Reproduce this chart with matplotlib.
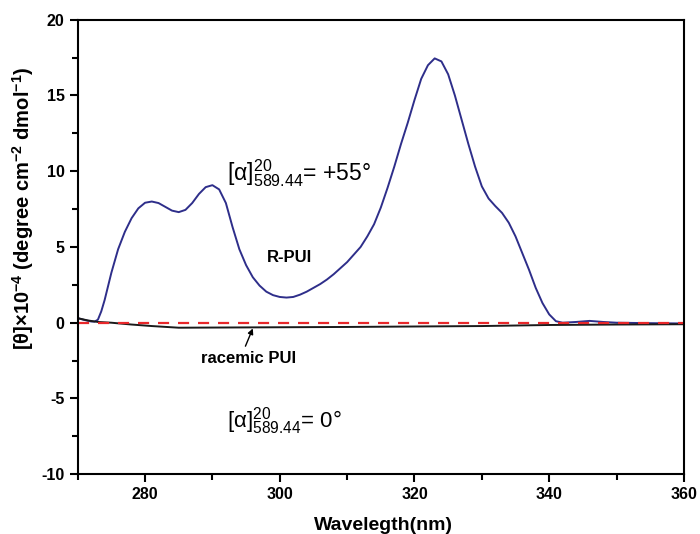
import matplotlib
matplotlib.use("Agg")
import matplotlib.pyplot as plt
from matplotlib.ticker import MultipleLocator

plt.rcParams.update({
    "font.family": ["Liberation Sans", "DejaVu Sans"],
    "mathtext.fontset": "custom",
    "mathtext.rm": "Liberation Sans",
    "mathtext.it": "Liberation Sans",
    "mathtext.bf": "Liberation Sans:bold",
    "axes.unicode_minus": False,
})

# --- data ---
wl_r = [270, 271, 272, 272.5, 273, 273.5, 274, 275, 276, 277, 278, 279, 280, 281, 282, 283,
        284, 285, 286, 287, 288, 289, 290, 291, 292, 293, 294, 295, 296, 297, 298,
        299, 300, 301, 302, 303, 304, 305, 306, 307, 308, 309, 310, 311, 312, 313,
        314, 315, 316, 317, 318, 319, 320, 321, 322, 323, 324, 325, 326, 327, 328,
        329, 330, 331, 332, 333, 334, 335, 336, 337, 338, 339, 340, 341, 342, 344,
        346, 348, 350, 355, 360]
cd_r = [0.30, 0.18, 0.08, 0.07, 0.2, 0.75, 1.5, 3.3, 4.85, 6.0, 6.9, 7.55, 7.92, 8.0, 7.9, 7.65,
        7.4, 7.3, 7.45, 7.9, 8.5, 8.95, 9.08, 8.8, 7.9, 6.3, 4.85, 3.8, 3.0, 2.45, 2.05,
        1.82, 1.7, 1.66, 1.7, 1.85, 2.05, 2.3, 2.55, 2.85, 3.2, 3.6, 4.0, 4.5, 5.0, 5.7,
        6.5, 7.6, 8.9, 10.3, 11.8, 13.2, 14.7, 16.1, 17.0, 17.45, 17.25, 16.4, 15.0, 13.4, 11.8,
        10.3, 9.0, 8.2, 7.7, 7.25, 6.6, 5.7, 4.6, 3.5, 2.3, 1.3, 0.55, 0.1, 0.0, 0.05,
        0.12, 0.05, 0.0, -0.03, -0.05]

wl_rac = [270, 271.5, 273, 275, 278, 281, 285, 290, 300, 310, 320, 330, 340, 350, 360]
cd_rac = [0.30, 0.15, 0.05, 0.0, -0.12, -0.22, -0.33, -0.32, -0.30, -0.28, -0.25,
          -0.22, -0.15, -0.12, -0.10]

wl_base = [270, 360]
cd_base = [0, 0]

fig = plt.figure(figsize=(7.0, 5.34), dpi=100)
ax = fig.add_axes([0.111, 0.112, 0.866, 0.851])

ax.plot(wl_r, cd_r, color="#2e2e8a", lw=1.4, solid_joinstyle="round")
ax.plot(wl_rac, cd_rac, color="#1a1a1a", lw=1.4)
ax.plot(wl_base, cd_base, color="#e8272a", lw=1.6, ls="--", dashes=(5, 4))

ax.set_xlim(270, 360)
ax.set_ylim(-10, 20)
ax.xaxis.set_major_locator(MultipleLocator(20))
ax.xaxis.set_minor_locator(MultipleLocator(10))
ax.yaxis.set_major_locator(MultipleLocator(5))
ax.yaxis.set_minor_locator(MultipleLocator(2.5))
ax.set_xticks([280, 300, 320, 340, 360])
ax.tick_params(which="both", direction="out", width=1.5, labelsize=11.5)
ax.tick_params(which="major", length=6)
ax.tick_params(which="minor", length=4)
for lab in ax.get_xticklabels() + ax.get_yticklabels():
    lab.set_fontweight("bold")
for sp in ax.spines.values():
    sp.set_linewidth(1.5)

ax.set_xlabel("Wavelegth(nm)", fontsize=14, fontweight="bold")
ax.xaxis.set_label_coords(0.505, -0.095)
ax.set_ylabel(r"[θ]×10$^{\mathbf{-4}}$ (degree cm$^{\mathbf{-2}}$ dmol$^{\mathbf{-1}}$)",
              fontsize=14.5, fontweight="bold")
ax.yaxis.set_label_coords(-0.068, 0.585)

ax.text(292.2, 9.9, r"$[\mathrm{α}]^{20}_{589.44}$= +55°", fontsize=16.5,
        ha="left", va="center")
ax.text(292.1, -6.5, r"$[\mathrm{α}]^{20}_{589.44}$= 0°", fontsize=16,
        ha="left", va="center")
ax.text(301.5, 4.3, "R-PUI", fontsize=12, fontweight="bold", ha="center", va="center")
ax.text(295.3, -2.35, "racemic PUI", fontsize=12, fontweight="bold",
        ha="center", va="center")
ax.annotate("", xy=(296.0, -0.38), xytext=(294.9, -1.55),
            arrowprops=dict(arrowstyle="-|>", color="black", lw=1.0,
                            mutation_scale=8, shrinkA=0, shrinkB=0))

fig.savefig("out.png", dpi=100)
